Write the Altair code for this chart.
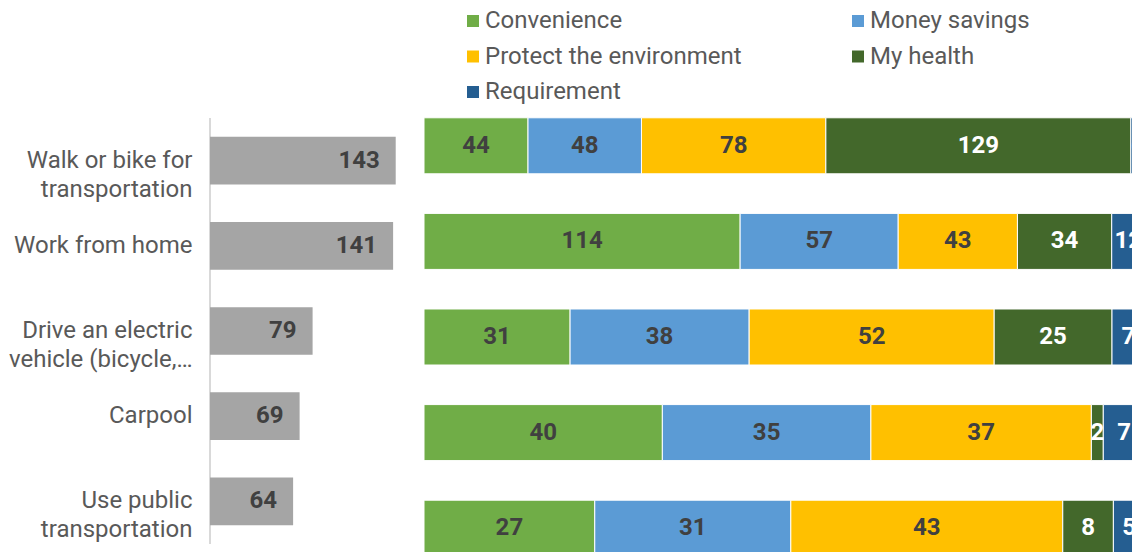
import altair as alt
import pandas as pd

categories = [
    "Walk or bike for|transportation",
    "Work from home",
    "Drive an electric|vehicle (bicycle,…",
    "Carpool",
    "Use public|transportation",
]
totals = [143, 141, 79, 69, 64]

reasons = ["Convenience", "Money savings", "Protect the environment", "My health", "Requirement"]
convenience = [44, 114, 31, 40, 27]
money_savings = [48, 57, 38, 35, 31]
environment = [78, 43, 52, 37, 43]
my_health = [129, 34, 25, 2, 8]
requirement = [6, 12, 7, 7, 5]
series = [convenience, money_savings, environment, my_health, requirement]
colors = ["#70AD47", "#5B9BD5", "#FFC000", "#43682B", "#255E91"]

# legend lists its entries column by column; this order reproduces the reference reading order
legend_order = ["Convenience", "Protect the environment", "Requirement", "Money savings", "My health"]
legend_colors = [colors[reasons.index(r)] for r in legend_order]

FONT = "Roboto"

left_df = pd.DataFrame({"cat": categories, "total": totals})

rows = []
for i, c in enumerate(categories):
    for j, r in enumerate(reasons):
        rows.append({"cat": c, "reason": r, "order": j, "value": series[j][i]})
right_df = pd.DataFrame(rows)

# ---------- left panel: totals ----------
ly = alt.Y(
    "cat:N",
    sort=categories,
    scale=alt.Scale(range=[20, 446], paddingInner=0.44, paddingOuter=0.22),
    axis=alt.Axis(
        title=None,
        labelExpr="split(datum.label, '|')",
        labelFont=FONT,
        labelFontSize=24,
        labelColor="#595959",
        labelLineHeight=29,
        labelPadding=18,
        labelLimit=0,
        ticks=False,
        domain=False,
    ),
)
lx = alt.X("total:Q", scale=alt.Scale(domain=[0, 154]), axis=None)
base_left = alt.Chart(left_df).encode(y=ly, x=lx)
left_bars = base_left.mark_bar(color="#A5A5A5")
left_text = base_left.mark_text(
    align="right", dx=-16, font=FONT, fontSize=24, fontWeight="bold", color="#404040"
).encode(text="total:Q")
left_line = (
    alt.Chart(left_df)
    .mark_rule(color="#d9d9d9", strokeWidth=2)
    .encode(x=alt.value(0), y=alt.value(20), y2=alt.value(446))
)
left = (left_line + left_bars + left_text).properties(width=200, height=478)

# ---------- right panel: 100% stacked reasons ----------
base_r = (
    alt.Chart(right_df)
    .transform_joinaggregate(total="sum(value)", groupby=["cat"])
    .transform_window(
        cum="sum(value)", groupby=["cat"], sort=[alt.SortField("order")], frame=[None, 0]
    )
    .transform_calculate(
        x0="(datum.cum - datum.value) / datum.total",
        x1="datum.cum / datum.total",
        xm="(datum.cum - datum.value / 2) / datum.total",
    )
)
ry = alt.Y(
    "cat:N",
    sort=categories,
    scale=alt.Scale(paddingInner=0.414, paddingOuter=0.207),
    axis=None,
)
RW = 708
xscale = alt.Scale(domain=[0, RW / 721])
right_bars = base_r.mark_bar(stroke="#ffffff", strokeWidth=1, clip=True).encode(
    y=ry,
    x=alt.X("x0:Q", scale=xscale, axis=None),
    x2="x1:Q",
    color=alt.Color(
        "reason:N",
        scale=alt.Scale(domain=legend_order, range=legend_colors),
        legend=alt.Legend(
            title=None,
            orient="none",
            legendX=251,
            legendY=-89,
            padding=0,
            columns=2,
            columnPadding=104,
            rowPadding=11.5,
            symbolType="square",
            symbolSize=144,
            symbolStrokeWidth=0,
            labelFont=FONT,
            labelFontSize=24,
            labelColor="#595959",
            labelOffset=0,
            labelLimit=0,
        ),
    ),
)
right_text = base_r.mark_text(font=FONT, fontSize=24, fontWeight="bold", clip=True).encode(
    y=ry,
    x=alt.X("xm:Q", scale=xscale, axis=None),
    text="value:Q",
    color=alt.when(alt.datum.order >= 3).then(alt.value("#ffffff")).otherwise(alt.value("#404040")),
)
right = (right_bars + right_text).properties(width=RW, height=478)

chart = (
    alt.hconcat(left, right, spacing=14)
    .properties(padding={"top": 1, "left": 0, "right": 0, "bottom": 0})
    .configure(font=FONT)
    .configure_view(stroke=None)
)
chart.save("out.html", embed_options={"renderer": "svg", "actions": False})
